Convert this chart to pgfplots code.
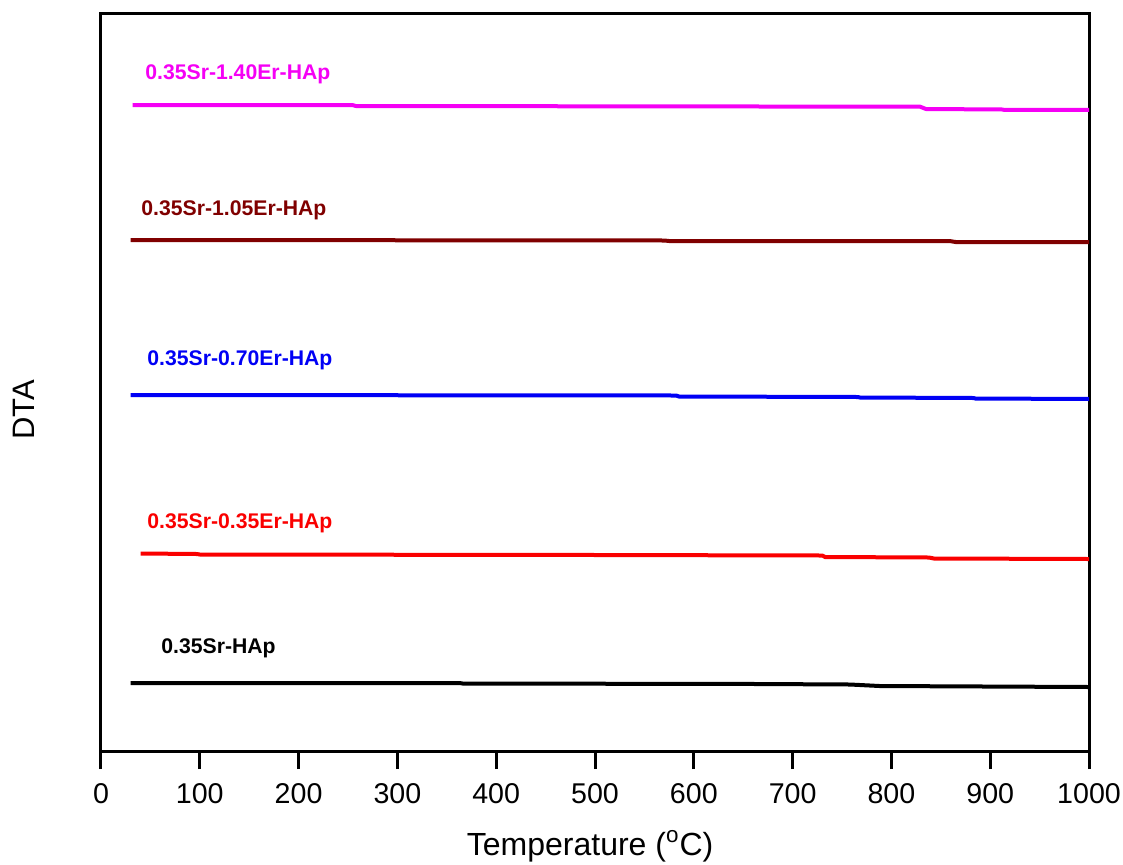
\documentclass[border=0pt]{standalone}
\usepackage{fontspec}
\setmainfont{Liberation Sans}
\usepackage{pgfplots}
\pgfplotsset{compat=1.18}
\definecolor{cmag}{RGB}{245,0,245}
\definecolor{cwine}{RGB}{128,0,0}
\definecolor{cblue}{RGB}{0,0,245}
\definecolor{cred}{RGB}{250,0,0}

\begin{document}
\begin{tikzpicture}
\begin{axis}[
  at={(0,0)}, anchor=south west,
  scale only axis,
  width=494pt, height=368.5pt,
  xmin=0, xmax=1000, ymin=0, ymax=737,
  xtick={0,100,...,1000}, ytick=\empty,
  xtick pos=lower, tick align=outside,
  major tick length=9pt,
  tick style={line width=1.5pt, black},
  axis line style={line width=1.5pt},
  /pgf/number format/assume math mode=true,
  /pgf/number format/1000 sep={},
  tick label style={font=\fontsize{14.3}{16}\selectfont},
  xticklabel style={yshift=-3.5pt},
  xlabel={Temperature (\textsuperscript{o}C)},
  xlabel style={at={(rel axis cs:0.495,-0.1411)}, anchor=base, font=\fontsize{16}{18}\selectfont},
  ylabel={DTA},
  ylabel style={at={(rel axis cs:-0.0668,0.4627)}, anchor=base, rotate=0, font=\fontsize{15.5}{18}\selectfont},
  clip=false,
  every axis plot/.append style={line width=2pt},
]
% 0.35Sr-HAp
\addplot[black] coordinates {(30,68) (363,68) (366,67.5) (667,67) (758,66.5) (788,65) (1000,64)};
% 0.35Sr-0.35Er-HAp
\addplot[cred] coordinates {(40,197.5) (97,197) (100,196.5) (505,196) (730,195.5) (733,194) (838,193.5) (843,192.5) (1000,192)};
% 0.35Sr-0.70Er-HAp
\addplot[cblue] coordinates {(30,356) (582,355.5) (585,354.5) (766,354) (768,353.5) (883,353) (885,352.5) (1000,352)};
% 0.35Sr-1.05Er-HAp
\addplot[cwine] coordinates {(30,511) (570,510.5) (575,510) (860,509.8) (865,509) (1000,509)};
% 0.35Sr-1.40Er-HAp
\addplot[cmag] coordinates {(32,646) (255,645.8) (258,645) (829,644.3) (835,642) (912,641.5) (915,641) (1000,641)};

\begin{scope}[every node/.style={anchor=base west, font=\fontsize{10.6}{12}\selectfont\bfseries, inner sep=0pt}]
\node[black] at (axis cs:60.7,98) {0.35Sr-HAp};
\node[cred] at (axis cs:46.6,223) {0.35Sr-0.35Er-HAp};
\node[cblue] at (axis cs:46.6,386) {0.35Sr-0.70Er-HAp};
\node[cwine] at (axis cs:40.5,536) {0.35Sr-1.05Er-HAp};
\node[cmag] at (axis cs:44.5,671) {0.35Sr-1.40Er-HAp};
\end{scope}
\end{axis}
\pgfresetboundingbox
\path[use as bounding box] (-50.5pt,-56.5pt) rectangle (511pt,375.5pt);
\end{tikzpicture}
\end{document}
